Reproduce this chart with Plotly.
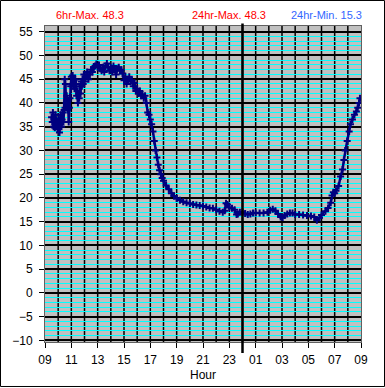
import plotly.graph_objects as go

# clock hours (9 = 09:00 day 1, 33 = 09:00 day 2)
hours = [9.50, 9.55, 9.60, 9.65, 9.70, 9.75, 9.80, 9.85, 9.90, 9.95, 10.00, 10.05, 10.10, 10.15,
         10.20, 10.25, 10.30, 10.35, 10.40, 10.45, 10.50, 10.52, 10.55, 10.60, 10.65, 10.70, 10.75,
         10.80, 10.85, 10.90, 10.95, 11.00, 11.05, 11.10, 11.15, 11.20, 11.25, 11.30, 11.35, 11.40,
         11.45, 11.50, 11.55, 11.60, 11.65, 11.70, 11.75, 11.80, 11.85, 11.90, 11.95, 12.00, 12.10,
         12.20, 12.30, 12.40, 12.50, 12.60, 12.70, 12.80, 12.90, 13.00, 13.10, 13.20, 13.30, 13.40,
         13.50, 13.60, 13.70, 13.80, 13.90, 14.00, 14.10, 14.20, 14.30, 14.40, 14.50, 14.60, 14.70,
         14.80, 14.90, 15.00, 15.10, 15.20, 15.30, 15.40, 15.50, 15.60, 15.70, 15.80, 15.90, 16.00,
         16.10, 16.20, 16.30, 16.40, 16.50, 16.60, 16.70, 16.80, 16.90, 17.00, 17.10, 17.20, 17.30,
         17.40, 17.50, 17.60, 17.70, 17.80, 17.90, 18.00, 18.20, 18.40, 18.60, 18.80, 19.00, 19.25,
         19.50, 19.75, 20.00, 20.25, 20.50, 20.75, 21.00, 21.25, 21.50, 21.75, 22.00, 22.25, 22.50,
         22.65, 22.75, 22.85, 23.00, 23.20, 23.40, 23.55, 23.65, 23.80, 24.00, 24.20, 24.40, 24.60,
         24.80, 25.00, 25.30, 25.60, 25.90, 26.10, 26.30, 26.50, 26.70, 26.90, 27.05, 27.20, 27.40,
         27.60, 27.80, 28.00, 28.30, 28.60, 28.90, 29.20, 29.45, 29.65, 29.85, 30.00, 30.30, 30.50,
         30.70, 30.80, 30.90, 31.00, 31.10, 31.30, 31.45, 31.60, 31.70, 31.80, 31.95, 32.10, 32.20,
         32.35, 32.50, 32.65, 32.75, 32.85, 32.92]
temps = [37.0, 36.0, 38.0, 35.0, 36.5, 34.8, 37.5, 35.2, 36.0, 34.5, 35.5, 36.8, 33.8, 35.5,
         37.5, 35.0, 36.5, 38.0, 36.0, 38.5, 45.0, 39.0, 44.0, 40.0, 41.5, 38.5, 40.5,
         36.0, 39.0, 41.0, 43.5, 45.5, 44.0, 45.8, 43.5, 44.8, 43.0, 45.0, 44.0, 41.5,
         42.5, 40.0, 42.0, 41.0, 43.5, 42.0, 44.5, 43.5, 45.0, 44.0, 46.0, 44.5, 45.5,
         46.5, 45.0, 46.0, 47.0, 46.5, 47.5, 47.8, 48.2, 47.5, 48.0, 47.2, 46.8, 47.5,
         46.5, 47.8, 48.3, 47.5, 46.8, 47.5, 46.5, 47.8, 47.0, 46.0, 47.2, 47.5, 46.8,
         47.0, 46.2, 44.8, 45.5, 44.0, 44.8, 45.5, 44.5, 44.8, 43.5, 44.2, 42.5, 43.0,
         42.0, 42.5, 41.5, 41.8, 41.0, 41.5, 40.0, 38.0, 37.5, 36.5, 35.5, 34.0, 32.0,
         30.0, 28.5, 27.0, 25.8, 25.0, 24.2, 23.6, 22.6, 21.8, 21.0, 20.4, 19.9, 19.5,
         19.2, 19.0, 18.8, 18.6, 18.5, 18.4, 18.3, 18.1, 17.9, 17.8, 17.5, 17.2, 17.0,
         17.3, 18.9, 18.6, 18.0, 17.8, 17.5, 16.5, 16.6, 17.0, 17.0, 16.7, 16.5, 16.6,
         16.8, 16.8, 16.8, 16.8, 17.0, 17.4, 17.6, 17.3, 16.6, 16.0, 15.9, 16.3, 16.6,
         16.8, 16.8, 16.5, 16.5, 16.4, 16.3, 16.2, 16.0, 15.3, 15.8, 16.4, 17.2, 17.9,
         19.0, 20.5, 21.2, 21.0, 21.5, 22.5, 24.5, 26.0, 28.0, 30.0, 32.0, 34.0, 35.5,
         36.5, 37.5, 38.2, 39.0, 40.0, 41.0]

tick_vals = [9, 11, 13, 15, 17, 19, 21, 23, 25, 27, 29, 31, 33]
tick_text = ["09", "11", "13", "15", "17", "19", "21", "23", "01", "03", "05", "07", "09"]
hour_lines = list(range(10, 33))
y_ticks = [-10, -5, 0, 5, 10, 15, 20, 25, 30, 35, 40, 45, 50, 55]
headers = ["6hr-Max. 48.3", "24hr-Max. 48.3", "24hr-Min. 15.3"]
header_colors = ["#FF0000", "#FF0000", "#3366FF"]
header_x = [0.028, 0.46, 0.772]
midnight = 24

fig = go.Figure()
fig.add_trace(go.Scatter(
    x=hours, y=temps, mode="lines+markers",
    line=dict(color="#000080", width=2.5),
    marker=dict(symbol="cross-thin", size=5, color="#000080",
                line=dict(color="#000080", width=2)),
    hoverinfo="x+y", showlegend=False))

font = dict(family="Liberation Sans, Arial, sans-serif", size=12, color="black")

fig.update_layout(
    width=385, height=388,
    margin=dict(l=45, r=24, t=26, b=46, autoexpand=False),
    paper_bgcolor="white", plot_bgcolor="#C0C0C0",
    font=font,
    xaxis=dict(range=[9, 33], tickvals=tick_vals, ticktext=tick_text,
               ticks="outside", ticklen=5, tickcolor="black", tickwidth=1,
               showgrid=False, ticklabelstandoff=2, automargin=False,
               showline=True, linecolor="#606060", linewidth=1, mirror=True,
               zeroline=False, title=dict(text="Hour", font=font, standoff=4),
               tickfont=font),
    yaxis=dict(range=[-10.34, 56.2], tickvals=y_ticks, automargin=False,
               ticks="outside", ticklen=5, tickcolor="black", tickwidth=1,
               showgrid=True, gridcolor="black", gridwidth=1.5,
               minor=dict(dtick=1, tick0=0, showgrid=True, gridcolor="#00FFFF", gridwidth=1),
               showline=True, linecolor="#606060", linewidth=1, mirror=True,
               zeroline=False, tickfont=font, ticklabelstandoff=4),
)

# hourly vertical grid lines, drawn above the cyan grid but below the data
for h in hour_lines:
    fig.add_shape(type="line", xref="x", yref="paper", x0=h, x1=h, y0=0, y1=1,
                  layer="between", line=dict(color="black", width=1.5))

for txt, col, xp in zip(headers, header_colors, header_x):
    fig.add_annotation(text=txt, x=xp, y=1.035, xref="paper", yref="paper",
                       xanchor="left", yanchor="middle", showarrow=False,
                       font=dict(family="Liberation Sans, Arial, sans-serif", size=11, color=col))

# midnight marker line
fig.add_shape(type="line", xref="x", yref="paper", x0=midnight, x1=midnight,
              y0=-0.035, y1=1.008, line=dict(color="black", width=2.5))
# outer border
fig.add_shape(type="rect", xref="paper", yref="paper",
              x0=-0.1408, x1=1.0744, y0=-0.1408, y1=1.0807,
              line=dict(color="black", width=1), fillcolor="rgba(0,0,0,0)")

fig.write_html("out.html", config={"displayModeBar": False},
               post_script="document.body.style.margin='0';")
